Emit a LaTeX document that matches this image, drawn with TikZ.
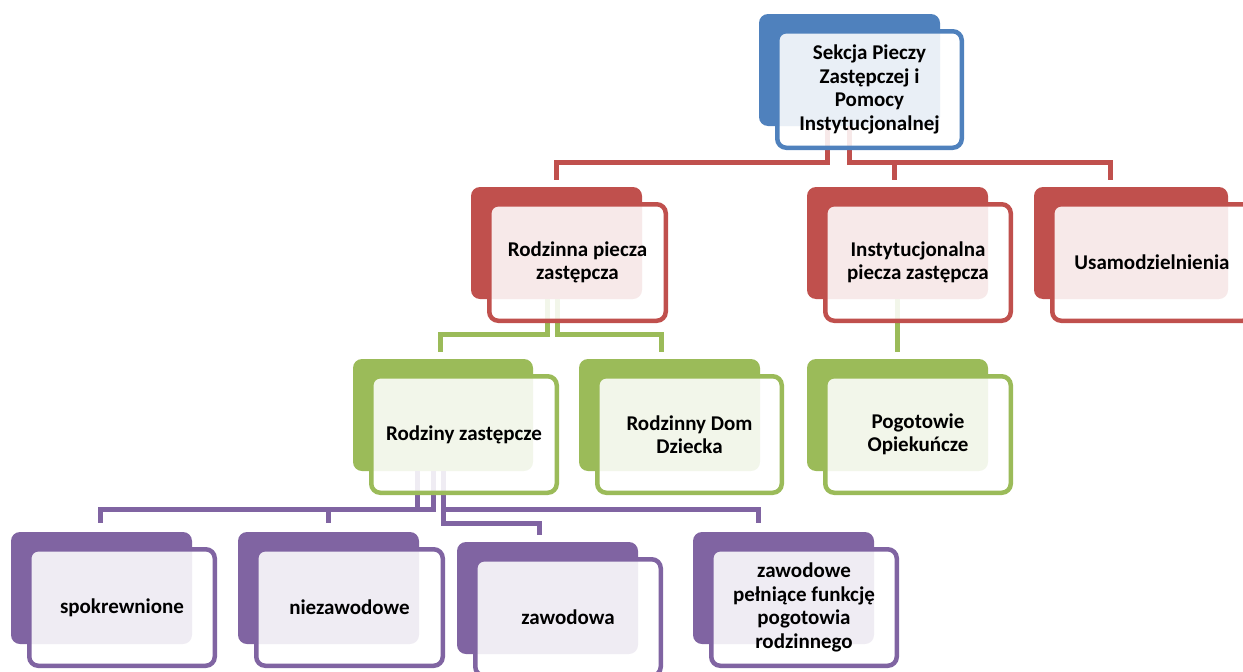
\documentclass[tikz,border=0pt]{standalone}
\usepackage{fontspec}
\setmainfont{Carlito}
\definecolor{cblue}{HTML}{4F81BD}
\definecolor{cred}{HTML}{C0504D}
\definecolor{cgreen}{HTML}{9BBB59}
\definecolor{cpurple}{HTML}{8064A2}
\pgfdeclarelayer{front}
\pgfsetlayers{main,front}
\tikzset{
  backbox/.style={rectangle, rounded corners=9pt, draw=none, minimum height=112pt, inner sep=0pt},
  frontbox/.style={rectangle, rounded corners=9pt, line width=4.5pt, fill=white, fill opacity=0.88, text opacity=1,
     minimum height=116.5pt, inner sep=0pt, align=center, text=black,
     font=\fontsize{21}{23.4}\selectfont\bfseries},
  conn/.style={line width=5pt, draw=#1}
}
\newcommand\elem[7]{%
  \node[backbox, fill=#2, minimum width=#5pt] (#1b) at ({#3+#5/2},{#4+56}) {};
  \begin{pgfonlayer}{front}
  \node[frontbox, draw=#2, minimum width={#6pt-4.5pt}] (#1f) at ({#3+16+#6/2},{#4+75.5}) {#7};
  \end{pgfonlayer}}
\begin{document}
\begin{tikzpicture}[x=1pt,y=-1pt]
\useasboundingbox (0,0) rectangle (1243,672);
\clip (0,0) rectangle (1243,672);
% level 1
\elem{sek}{cblue}{759}{14}{181}{189}{Sekcja Pieczy\\Zastępczej i\\Pomocy\\Instytucjonalnej}
% level 2
\elem{rod}{cred}{471}{187}{171}{181}{Rodzinna piecza\\zastępcza}
\elem{inst}{cred}{807}{187}{181}{190}{Instytucjonalna\\piecza zastępcza}
\elem{usa}{cred}{1034}{187}{194}{204}{Usamodzielnienia}
% level 3
\elem{rz}{cgreen}{353}{359}{180}{190}{Rodziny zastępcze}
\elem{rdd}{cgreen}{579}{359}{181}{189}{Rodzinny Dom\\Dziecka}
\elem{pog}{cgreen}{807}{359}{181}{190}{Pogotowie\\Opiekuńcze}
% level 4
\elem{spk}{cpurple}{11}{532}{181}{190}{spokrewnione}
\elem{nzw}{cpurple}{238}{532}{181}{191}{niezawodowe}
\elem{zwd}{cpurple}{457}{542}{181}{190}{zawodowa}
\elem{zpf}{cpurple}{693}{532}{181}{190}{zawodowe\\pełniące funkcję\\pogotowia\\rodzinnego}
% connectors: red
\draw[conn=cred] ([xshift=-22.5pt]sekb.south) -- ++(0,36) -| ([yshift=7pt]rodb.north);
\draw[conn=cred] ([xshift=-0.5pt]sekb.south) -- ++(0,36) -| ([xshift=-3.5pt,yshift=7pt]instb.north);
\draw[conn=cred] ([xshift=-0.5pt]sekb.south) -- ++(0,36) -| ([xshift=-21pt,yshift=7pt]usab.north);
% connectors: green
\draw[conn=cgreen] ([xshift=-9.5pt]rodb.south) -- ++(0,35) -| ([xshift=-3pt,yshift=7pt]rzb.north);
\draw[conn=cgreen] ([xshift=0.5pt]rodb.south) -- ++(0,35) -| ([xshift=-8.5pt,yshift=7pt]rddb.north);
\draw[conn=cgreen] (instb.south) -- ([yshift=7pt]pogb.north);
% connectors: purple
\draw[conn=cpurple] ([xshift=-26pt]rzb.south) -- ++(0,38) -| ([xshift=-1.5pt,yshift=9pt]spkb.north);
\draw[conn=cpurple] ([xshift=-10pt]rzb.south) -- ++(0,38) -| ([xshift=-0.5pt,yshift=9pt]nzwb.north);
\draw[conn=cpurple] (rzb.south) -- ++(0,52) -| ([xshift=-8.5pt,yshift=7pt]zwdb.north);
\draw[conn=cpurple] (rzb.south) -- ++(0,38) -| ([xshift=-25.5pt,yshift=9pt]zpfb.north);
\end{tikzpicture}
\end{document}
